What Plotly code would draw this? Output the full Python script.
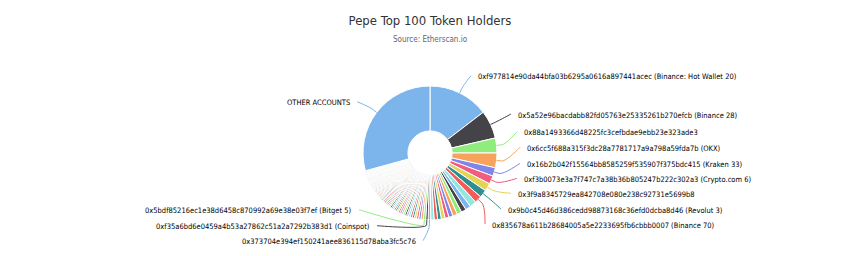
import math
import plotly.graph_objects as go

# ---------------- data ----------------
HOLDER_NAMES = [
    "0xf977814e90da44bfa03b6295a0616a897441acec (Binance: Hot Wallet 20)",
    "0x5a52e96bacdabb82fd05763e25335261b270efcb (Binance 28)",
    "0x88a1493366d48225fc3cefbdae9ebb23e323ade3",
    "0x6cc5f688a315f3dc28a7781717a9a798a59fda7b (OKX)",
    "0x16b2b042f15564bb8585259f535907f375bdc415 (Kraken 33)",
    "0xf3b0073e3a7f747c7a38b36b805247b222c302a3 (Crypto.com 6)",
    "0x3f9a8345729ea842708e080e238c92731e5699b8",
    "0x9b0c45d46d386cedd98873168c36efd0dcba8d46 (Revolut 3)",
    "0x835678a611b28684005a5e2233695fb6cbbb0007 (Binance 70)",
] + [f"Holder #{k}" for k in range(10, 21)] + [
    "0x373704e394ef150241aee836115d78aba3fc5c76",
    "0xf35a6bd6e0459a4b53a27862c51a2a7292b383d1 (Coinspot)",
    "0x5bdf85216ec1e38d6458c870992a69e38e03f7ef (Bitget 5)",
] + [f"Holder #{k}" for k in range(24, 101)]

HOLDER_SHARE = [
    14.6, 6.8, 3.6, 3.55, 2.05, 2.0, 1.9, 1.85, 1.7, 1.65,
    1.3, 1.2, 1.15, 1.1, 1.0, 0.95, 0.9, 0.88, 0.85, 0.8,
    0.62, 0.6, 0.58, 0.56, 0.55, 0.53, 0.52, 0.50, 0.49, 0.48,
    0.46, 0.45, 0.44, 0.43, 0.42, 0.41, 0.40, 0.39, 0.38, 0.37,
    0.36, 0.35, 0.34, 0.33, 0.32, 0.31, 0.30, 0.29, 0.28, 0.27,
    0.26, 0.26, 0.25, 0.25, 0.24, 0.24, 0.23, 0.23, 0.22, 0.22,
    0.21, 0.21, 0.20, 0.20, 0.19, 0.19, 0.18, 0.18, 0.18, 0.17,
    0.17, 0.17, 0.16, 0.16, 0.16, 0.15, 0.15, 0.15, 0.14, 0.14,
    0.14, 0.14, 0.13, 0.13, 0.13, 0.13, 0.12, 0.12, 0.12, 0.12,
    0.11, 0.11, 0.11, 0.11, 0.10, 0.10, 0.10, 0.10, 0.10, 0.09,
]

OTHER_NAME = "OTHER ACCOUNTS"
OTHER_SHARE = 29.27

TITLE = "Pepe Top 100 Token Holders"
SUBTITLE = "Source: Etherscan.io"

# ---------------- style / layout ----------------
W, H = 860, 256
PALETTE = ["#7cb5ec", "#434348", "#90ed7d", "#f7a35c", "#8085e9",
           "#f15c80", "#e4d354", "#2b908f", "#f45b5b", "#91e8e1"]
CX, CY, R = 430, 153, 67          # pie centre and radius in pixels
HOLE = 0.33
FONT = "DejaVu Sans Condensed, DejaVu Sans, sans-serif"

# label anchors (text edge x, text middle y) for the labels that are shown
LABEL_LAYOUT = {
    0: ("right", 477, 76.7),
    1: ("right", 517, 115.0),
    2: ("right", 523, 132.7),
    3: ("right", 526, 148.3),
    4: ("right", 526, 164.3),
    5: ("right", 523, 179.3),
    6: ("right", 517, 194.3),
    7: ("right", 507, 210.0),
    8: ("right", 491, 225.0),
    20: ("left", 417, 241.7),
    21: ("left", 371, 226.7),
    22: ("left", 353, 210.7),
    100: ("left", 351, 102.7),
}

labels = HOLDER_NAMES + [OTHER_NAME]
values = HOLDER_SHARE + [OTHER_SHARE]
colors = [PALETTE[i % len(PALETTE)] for i in range(len(values))]


def px(x):
    return x / W


def py(y):
    return 1 - y / H


fig = go.Figure(go.Pie(
    labels=labels,
    values=values,
    sort=False,
    direction="clockwise",
    rotation=0,
    hole=HOLE,
    marker=dict(colors=colors, line=dict(color="#ffffff", width=1)),
    textinfo="none",
    hoverinfo="label+percent",
    showlegend=False,
    domain=dict(x=[px(CX - R), px(CX + R)], y=[py(CY + R), py(CY - R)]),
))

total = sum(values)
cum = 0.0
mids = []
for v in values:
    mids.append(360.0 * (cum + v / 2) / total)
    cum += v

shapes = []
annotations = []
for idx, (side, lx, ly) in LABEL_LAYOUT.items():
    th = math.radians(mids[idx])
    s, c = math.sin(th), math.cos(th)
    ex, ey = CX + R * s, CY - R * c
    bx, by = CX + (R + 5) * s, CY - (R + 5) * c
    c2x, c2y = 2 * bx - ex, 2 * by - ey
    sx = lx - 6 if side == "right" else lx + 6
    sy = ly - 1
    path = (f"M {px(sx)},{py(sy)} C {px(sx)},{py(sy)} {px(c2x)},{py(c2y)} "
            f"{px(bx)},{py(by)} L {px(ex)},{py(ey)}")
    shapes.append(dict(type="path", path=path, xref="paper", yref="paper",
                       line=dict(color=colors[idx], width=1)))
    annotations.append(dict(
        text=labels[idx], x=px(lx), y=py(ly), xref="paper", yref="paper",
        xanchor="left" if side == "right" else "right", yanchor="middle",
        showarrow=False, borderpad=0,
        font=dict(family=FONT, size=7.5, color="#000000"),
    ))

annotations.append(dict(
    text=SUBTITLE, x=0.5, y=py(39.3), xref="paper", yref="paper",
    xanchor="center", yanchor="middle", showarrow=False,
    font=dict(family=FONT, size=8, color="#666666"),
))

fig.update_layout(
    width=W, height=H,
    margin=dict(l=0, r=0, t=0, b=0),
    paper_bgcolor="#ffffff",
    plot_bgcolor="#ffffff",
    title=dict(text=TITLE, x=0.5, xanchor="center", y=py(20), yanchor="middle",
               yref="container", font=dict(family=FONT, size=13, color="#333333")),
    shapes=shapes,
    annotations=annotations,
)

fig.write_html("out.html")
